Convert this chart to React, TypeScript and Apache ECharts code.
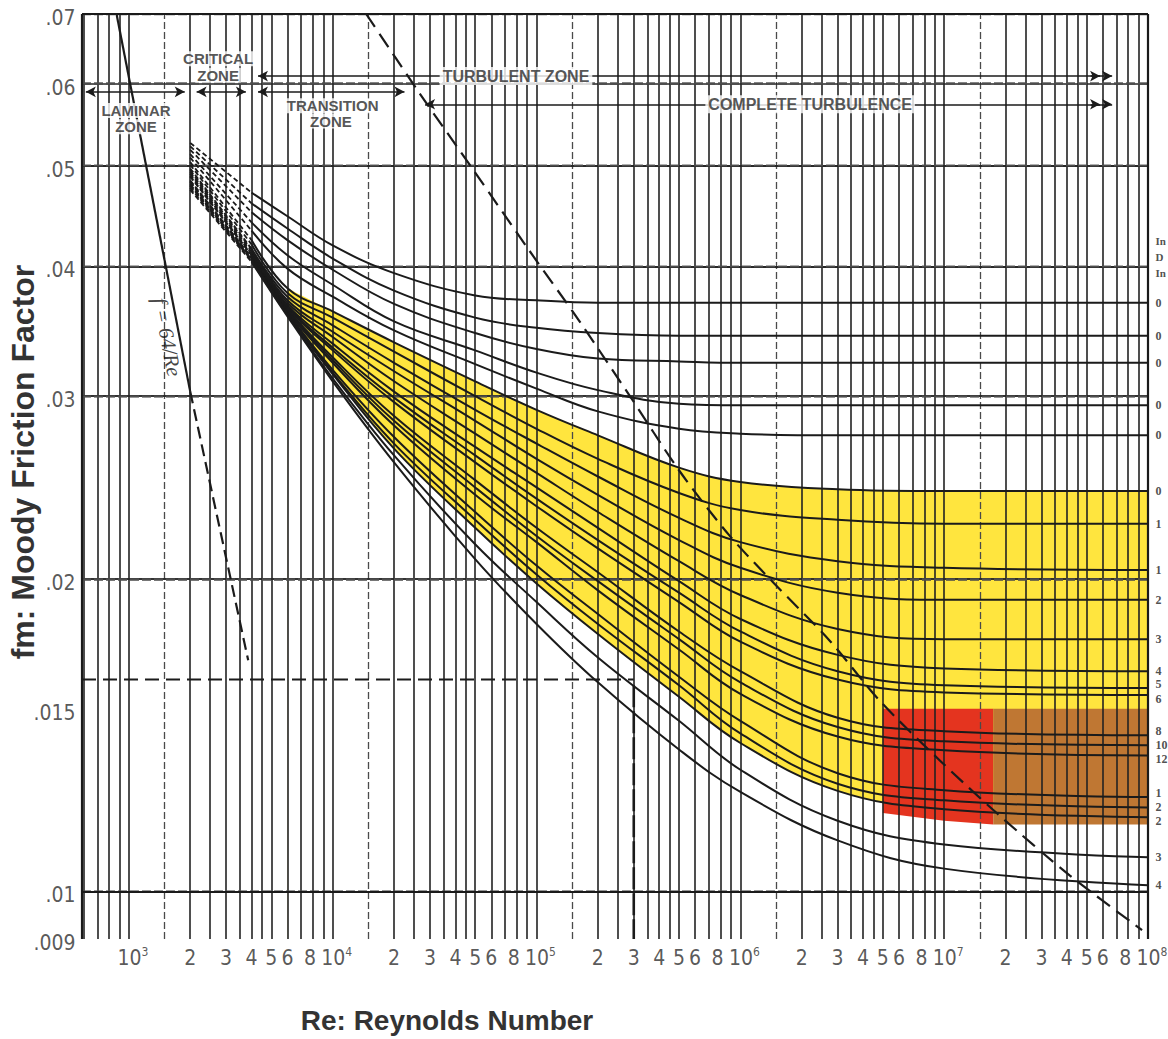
import React, { useEffect, useRef } from "react";
import * as echarts from "echarts";

const RE_MIN = 589;
const RE_MAX = 1e8;
const F_MIN = 0.009;
const F_MAX = 0.07;

const reSamples = [2000, 4000, 6000, 1e4, 2e4, 5e4, 1e5, 2e5, 5e5, 1e6, 3e6, 1e7, 1e8];

// friction factor readings, one array per curve (top to bottom)
const curve01 = [0.0526, 0.0471, 0.0447, 0.0419, 0.0394, 0.0375, 0.0371, 0.0369, 0.0369, 0.0369, 0.0369, 0.0369, 0.0369];
const curve02 = [0.0522, 0.046, 0.0435, 0.0407, 0.0379, 0.0357, 0.0349, 0.0345, 0.0343, 0.0343, 0.0343, 0.0343, 0.0343];
const curve03 = [0.0518, 0.0451, 0.0424, 0.0397, 0.0368, 0.0345, 0.0333, 0.0326, 0.0324, 0.0323, 0.0323, 0.0323, 0.0323];
const curve04 = [0.0513, 0.0441, 0.041, 0.0384, 0.0354, 0.0332, 0.0316, 0.0304, 0.0295, 0.0294, 0.0294, 0.0294, 0.0294];
const curve05 = [0.0509, 0.0433, 0.0398, 0.0374, 0.0347, 0.0322, 0.0305, 0.029, 0.0279, 0.0276, 0.0275, 0.0275, 0.0275];
const curve06 = [0.0504, 0.0424, 0.0381, 0.0362, 0.0338, 0.031, 0.0291, 0.0275, 0.0256, 0.0248, 0.0244, 0.0243, 0.0243];
const curve07 = [0.0501, 0.042, 0.0377, 0.0357, 0.0331, 0.03, 0.0279, 0.0261, 0.0242, 0.0233, 0.0228, 0.0226, 0.0226];
const curve08 = [0.0497, 0.0416, 0.0374, 0.0351, 0.0323, 0.0291, 0.027, 0.0251, 0.0229, 0.0217, 0.0208, 0.0205, 0.0204];
const curve09 = [0.0495, 0.0415, 0.0371, 0.0346, 0.0317, 0.0284, 0.0261, 0.0241, 0.0218, 0.0205, 0.0194, 0.0191, 0.0191];
const curve10 = [0.0493, 0.0413, 0.0369, 0.0342, 0.031, 0.0276, 0.0253, 0.0232, 0.0208, 0.0193, 0.0179, 0.0175, 0.0175];
const curve11 = [0.0491, 0.0411, 0.0367, 0.0337, 0.0303, 0.0268, 0.0245, 0.0224, 0.0199, 0.0183, 0.0169, 0.0164, 0.0163];
const curve12 = [0.0489, 0.041, 0.0366, 0.0334, 0.0299, 0.0263, 0.0239, 0.0218, 0.0194, 0.0178, 0.0163, 0.0158, 0.0157];
const curve13 = [0.0488, 0.041, 0.0365, 0.0332, 0.0296, 0.0259, 0.0235, 0.0214, 0.019, 0.0174, 0.016, 0.01555, 0.01546];
const curve14 = [0.0484, 0.0408, 0.0364, 0.0327, 0.0287, 0.0249, 0.0224, 0.0203, 0.0178, 0.0163, 0.0147, 0.01427, 0.01414];
const curve15 = [0.0483, 0.0408, 0.0363, 0.0325, 0.0284, 0.0245, 0.022, 0.0199, 0.0175, 0.0159, 0.0144, 0.01395, 0.01383];
const curve16 = [0.0482, 0.0407, 0.0362, 0.0323, 0.0281, 0.0241, 0.0217, 0.0195, 0.0171, 0.0155, 0.0141, 0.01368, 0.01352];
const curve17 = [0.048, 0.0406, 0.0361, 0.0318, 0.0274, 0.0232, 0.0206, 0.0185, 0.0161, 0.0146, 0.013, 0.01252, 0.01233];
const curve18 = [0.0479, 0.0406, 0.036, 0.0316, 0.027, 0.0228, 0.0202, 0.0181, 0.0158, 0.0142, 0.0127, 0.01224, 0.01205];
const curve19 = [0.0478, 0.0406, 0.036, 0.0315, 0.0267, 0.0224, 0.0198, 0.0177, 0.0154, 0.0139, 0.0125, 0.012, 0.01179];
const curve20 = [0.0476, 0.0405, 0.0359, 0.0312, 0.0263, 0.0216, 0.019, 0.0168, 0.0146, 0.0131, 0.0117, 0.0111, 0.01079];
const curve21 = [0.0474, 0.0404, 0.0358, 0.031, 0.0259, 0.0209, 0.0181, 0.0159, 0.0137, 0.01247, 0.0112, 0.01052, 0.01014];

const curves = [
  curve01, curve02, curve03, curve04, curve05, curve06, curve07, curve08, curve09, curve10, curve11,
  curve12, curve13, curve14, curve15, curve16, curve17, curve18, curve19, curve20, curve21,
];

// laminar line f = 64/Re (solid part, then dashed through the critical zone)
const laminarRe = [870, 2000];
const laminarF = [0.07, 0.0303];
const laminarDashRe = [2000, 3850];
const laminarDashF = [0.0303, 0.0167];

// dashed boundary of complete turbulence
const boundaryRe = [14600, 26400, 49100, 91600, 161000, 284000, 500000, 881000, 1466000, 2730000, 4810000, 9490000, 18100000, 41400000, 93500000];
const boundaryF = [0.07, 0.0589, 0.0495, 0.0415, 0.0355, 0.0301, 0.02545, 0.02204, 0.0198, 0.01746, 0.01528, 0.01338, 0.0119, 0.01036, 0.00918];

// dashed reading guides
const guideHRe = [RE_MIN, 300000];
const guideHF = [0.016, 0.016];
const guideVRe = [300000, 300000];
const guideVF = [0.0158, F_MIN];

// coloured zones
const yellowFirstSample = 2;
const redRe = [5.0e6, 1.0e7, 1.74e7];
const redTop = [0.015, 0.015, 0.015];
const redBottom = [0.0119, 0.0117, 0.0116];
const brownRe = [1.74e7, 1e8];
const brownTop = [0.015, 0.015];
const brownBottom = [0.0116, 0.0116];

// grid
const gridMantissas = [1, 1.5, 2, 2.5, 3, 3.5, 4, 4.5, 5, 6, 7, 8, 9];
const gridDecades = [100, 1e3, 1e4, 1e5, 1e6, 1e7];
const fGridSolid = [0.01, 0.011, 0.013, 0.015, 0.018, 0.02, 0.03, 0.032, 0.036, 0.04, 0.044, 0.048, 0.05, 0.054, 0.06, 0.066];
const fGridDashed = [0.0095, 0.012, 0.014, 0.016, 0.017, 0.019, 0.022, 0.024, 0.026, 0.028, 0.034, 0.038, 0.042, 0.046, 0.052, 0.056, 0.058, 0.062, 0.064, 0.068];

// tick labels
const xTickValues = [
  1e3, 2e3, 3e3, 4e3, 5e3, 6e3, 8e3,
  1e4, 2e4, 3e4, 4e4, 5e4, 6e4, 8e4,
  1e5, 2e5, 3e5, 4e5, 5e5, 6e5, 8e5,
  1e6, 2e6, 3e6, 4e6, 5e6, 6e6, 8e6,
  1e7, 2e7, 3e7, 4e7, 5e7, 6e7, 8e7, 1e8,
];
const xTickTexts = [
  "10{s|3}", "2", "3", "4", "5", "6", "8",
  "10{s|4}", "2", "3", "4", "5", "6", "8",
  "10{s|5}", "2", "3", "4", "5", "6", "8",
  "10{s|6}", "2", "3", "4", "5", "6", "8",
  "10{s|7}", "2", "3", "4", "5", "6", "8", "10{s|8}",
];
const yTickValues = [0.07, 0.06, 0.05, 0.04, 0.03, 0.02, 0.015, 0.01, 0.009];
const yTickTexts = [".07", ".06", ".05", ".04", ".03", ".02", ".015", ".01", ".009"];

// labels at the right edge (cut by the page edge in the original)
const rightLabelTexts = ["0", "0", "0", "0", "0", "0", "1", "1", "2", "3", "4", "5", "6", "8", "10", "12", "1", "2", "2", "3", "4"];
const rightLabelNudge = [0, 0, 0, 0, 0, 0, 0, 0, 0, 0, 0, -4, 4, -4, 0, 4, -4, 0, 4, 0, 0];
const headerF = [0.0423, 0.0408, 0.0394];
const headerTexts = ["In", "D", "In"];

// zone annotations
const zoneTexts = ["CRITICAL", "ZONE", "LAMINAR", "ZONE", "TRANSITION", "ZONE"];
const zoneRe = [2740, 2740, 1084, 1084, 10000, 9800];
const zoneF = [0.0634, 0.0611, 0.0565, 0.0545, 0.0571, 0.0552];
const bannerTexts = ["TURBULENT ZONE", "COMPLETE TURBULENCE"];
const bannerRe = [79300, 2200000];
const bannerF = [0.061, 0.0573];

const arrowFrom = [615, 2150, 4300, 4300, 28400];
const arrowTo = [1880, 3750, 22500, 6.67e7, 6.67e7];
const arrowF = [0.0589, 0.0589, 0.0589, 0.061, 0.0573];
const doubleHeadAt = [5.82e7, 5.82e7];
const doubleHeadF = [0.061, 0.0573];

const laminarLabelRe = [1540];
const laminarLabelF = [0.0342];

const INK = "#1b1b1b";
const SANS = "'Liberation Sans', Arial, Helvetica, sans-serif";
const NARROW = "'Liberation Sans Narrow', 'Arial Narrow', 'DejaVu Sans Condensed', 'Liberation Sans', sans-serif";
const SERIF = "'Liberation Serif', 'DejaVu Serif', serif";
const SMOOTH = 0.4;

function pairs(xs: number[], ys: number[], from = 0, to = xs.length) {
  const out: number[][] = [];
  for (let i = from; i < to; i++) out.push([xs[i], ys[i]]);
  return out;
}

function polygonSeries(xs: number[], top: number[], bottom: number[], color: string, z: number) {
  return {
    type: "custom",
    z,
    silent: true,
    clip: true,
    data: [[xs[0], top[0]]],
    renderItem: (_p: any, api: any) => {
      const pts: number[][] = [];
      for (let i = 0; i < xs.length; i++) pts.push(api.coord([xs[i], top[i]]));
      for (let i = xs.length - 1; i >= 0; i--) pts.push(api.coord([xs[i], bottom[i]]));
      return { type: "polygon", shape: { points: pts }, style: { fill: color } };
    },
  };
}

function markLineSeries(data: any[], lineStyle: any, z: number, extra: any = {}) {
  return {
    type: "line",
    data: [[RE_MIN, F_MIN]],
    symbol: "none",
    silent: true,
    lineStyle: { width: 0, opacity: 0 },
    z,
    markLine: {
      silent: true,
      z,
      symbol: ["none", "none"],
      label: { show: false },
      emphasis: { disabled: true },
      lineStyle,
      data,
      animation: false,
      ...extra,
    },
  };
}

function textSeries(items: any[], label: any, z = 9) {
  return {
    type: "scatter",
    silent: true,
    clip: false,
    z,
    symbol: "circle",
    symbolSize: 1,
    itemStyle: { color: "rgba(0,0,0,0)" },
    data: items,
    label: { show: true, ...label },
  };
}

export default function App() {
  const ref = useRef<HTMLDivElement>(null);

  useEffect(() => {
    if (!ref.current) return;
    const chart = echarts.init(ref.current, null, { renderer: "svg" });

    const verticalSolid: any[] = [];
    const verticalHalf: any[] = [];
    gridDecades.forEach((d) =>
      gridMantissas.forEach((m) => {
        const v = d * m;
        if (v <= RE_MIN || v >= RE_MAX) return;
        if (m === 1.5) verticalHalf.push({ xAxis: v });
        else verticalSolid.push({ xAxis: v });
      })
    );

    const series: any[] = [];

    // yellow band between curve 6 and curve 19
    series.push({
      type: "line",
      data: pairs(reSamples, curve06, yellowFirstSample),
      smooth: SMOOTH,
      symbol: "none",
      silent: true,
      lineStyle: { width: 0, opacity: 0 },
      areaStyle: { color: "#FFE53E", opacity: 1, origin: "start" },
      z: 1,
    });
    series.push({
      type: "line",
      data: pairs(reSamples, curve19, yellowFirstSample),
      smooth: SMOOTH,
      symbol: "none",
      silent: true,
      lineStyle: { width: 0, opacity: 0 },
      areaStyle: { color: "#ffffff", opacity: 1, origin: "start" },
      z: 2,
    });
    series.push(polygonSeries(redRe, redTop, redBottom, "#E4341F", 3));
    series.push(polygonSeries(brownRe, brownTop, brownBottom, "#BF7733", 3));

    // grid lines
    series.push(markLineSeries(verticalSolid, { color: "#222", width: 1.6, type: "solid", opacity: 1 }, 4));
    series.push(markLineSeries(verticalHalf, { color: "#4a4a4a", width: 1.3, type: [7, 3], opacity: 1 }, 4));
    series.push(markLineSeries(fGridSolid.map((v) => ({ yAxis: v })), { color: "#262626", width: 1.6, type: "solid", opacity: 1 }, 4));
    series.push(markLineSeries(fGridDashed.map((v) => ({ yAxis: v })), { color: "#4d4d4d", width: 1.3, type: [9, 3], opacity: 1 }, 4));

    // special lines
    series.push({ type: "line", data: pairs(laminarRe, laminarF), symbol: "none", silent: true, lineStyle: { color: INK, width: 2.2 }, z: 5 });
    series.push({ type: "line", data: pairs(laminarDashRe, laminarDashF), symbol: "none", silent: true, lineStyle: { color: INK, width: 2.2, type: [12, 6] }, z: 5 });
    series.push({ type: "line", data: pairs(guideHRe, guideHF), symbol: "none", silent: true, lineStyle: { color: INK, width: 2, type: [14, 7] }, z: 5 });
    series.push({ type: "line", data: pairs(guideVRe, guideVF), symbol: "none", silent: true, lineStyle: { color: INK, width: 2.6, type: [22, 4] }, z: 5 });
    series.push({
      type: "line",
      data: pairs(boundaryRe, boundaryF),
      smooth: 0.3,
      symbol: "none",
      silent: true,
      lineStyle: { color: INK, width: 2.2, type: [16, 8] },
      z: 5,
    });

    // friction curves
    curves.forEach((c) => {
      series.push({
        type: "line",
        data: pairs(reSamples, c, 1),
        smooth: SMOOTH,
        symbol: "none",
        silent: true,
        lineStyle: { color: INK, width: 2 },
        z: 6,
      });
      series.push({
        type: "line",
        data: pairs(reSamples, c, 0, 2),
        symbol: "none",
        silent: true,
        lineStyle: { color: INK, width: 1.8, type: [5, 3] },
        z: 6,
      });
    });

    // plot frame
    series.push(
      markLineSeries(
        [{ xAxis: RE_MIN }, { xAxis: RE_MAX }, { yAxis: F_MIN }, { yAxis: F_MAX }],
        { color: "#1a1a1a", width: 2.2, type: "solid", opacity: 1 },
        7
      )
    );

    // zone arrows
    const arrowData: any[] = [];
    arrowFrom.forEach((a, i) => {
      arrowData.push([
        { coord: [a, arrowF[i]], symbol: "arrow" },
        { coord: [arrowTo[i], arrowF[i]], symbol: "arrow" },
      ]);
    });
    doubleHeadAt.forEach((a, i) => {
      arrowData.push([
        { coord: [a * 0.9, doubleHeadF[i]], symbol: "none" },
        { coord: [a, doubleHeadF[i]], symbol: "arrow" },
      ]);
    });
    series.push(markLineSeries(arrowData, { color: INK, width: 1.6, type: "solid", opacity: 1 }, 8, { symbolSize: [8, 10] }));

    // tick labels
    series.push(
      textSeries(
        xTickValues.map((v, i) => {
          const t = xTickTexts[i];
          const shift = t.indexOf("10") === 0 ? 4 : t === "8" ? -3 : 0;
          return { value: [v, F_MIN], label: { offset: [shift, 0] } };
        }),
        {
          position: "bottom",
          distance: 6,
          formatter: (p: any) => xTickTexts[p.dataIndex],
          fontFamily: NARROW,
          fontSize: 21,
          lineHeight: 24,
          color: "#2e2e2e",
          rich: { s: { fontFamily: NARROW, fontSize: 12, lineHeight: 12, verticalAlign: "top", color: "#2e2e2e" } },
        }
      )
    );
    series.push(
      textSeries(
        yTickValues.map((v) => ({ value: [RE_MIN, v] })),
        {
          position: "left",
          distance: 6,
          offset: [0, 4],
          formatter: (p: any) => yTickTexts[p.dataIndex],
          fontFamily: NARROW,
          fontSize: 21,
          color: "#2e2e2e",
        }
      )
    );

    // right edge labels
    series.push(
      textSeries(
        curves.map((c, i) => ({
          value: [RE_MAX, c[c.length - 1]],
          label: { offset: [0, rightLabelNudge[i]] },
        })),
        {
          position: "right",
          distance: 7,
          formatter: (p: any) => rightLabelTexts[p.dataIndex],
          fontFamily: SERIF,
          fontWeight: "bold",
          fontSize: 12,
          color: "#222",
        }
      )
    );
    series.push(
      textSeries(
        headerF.map((v) => ({ value: [RE_MAX, v] })),
        {
          position: "right",
          distance: 7,
          formatter: (p: any) => headerTexts[p.dataIndex],
          fontFamily: SERIF,
          fontWeight: "bold",
          fontSize: 11,
          color: "#222",
        }
      )
    );

    // zone texts
    series.push(
      textSeries(
        zoneRe.map((r, i) => ({ value: [r, zoneF[i]] })),
        {
          position: "inside",
          formatter: (p: any) => zoneTexts[p.dataIndex],
          fontFamily: SANS,
          fontWeight: "bold",
          fontSize: 15,
          color: "#2a2a2a",
          backgroundColor: "#ffffff",
          padding: [0, 2],
        }
      )
    );
    series.push(
      textSeries(
        bannerRe.map((r, i) => ({ value: [r, bannerF[i]] })),
        {
          position: "inside",
          formatter: (p: any) => bannerTexts[p.dataIndex],
          fontFamily: SANS,
          fontWeight: "bold",
          fontSize: 16,
          color: "#2a2a2a",
          backgroundColor: "#ffffff",
          padding: [1, 3],
        }
      )
    );
    series.push(
      textSeries(
        laminarLabelRe.map((r, i) => ({ value: [r, laminarLabelF[i]] })),
        {
          position: "inside",
          rotate: -79,
          formatter: "f = 64/Re",
          fontFamily: SERIF,
          fontStyle: "italic",
          fontSize: 21,
          color: "#111",
        }
      )
    );

    chart.setOption({
      animation: false,
      backgroundColor: "#ffffff",
      grid: { left: 82, top: 14, width: 1066, height: 925, show: false },
      xAxis: {
        type: "log",
        logBase: 10,
        min: RE_MIN,
        max: RE_MAX,
        axisLine: { show: false },
        axisTick: { show: false },
        axisLabel: { show: false },
        splitLine: { show: false },
      },
      yAxis: {
        type: "log",
        logBase: 10,
        min: F_MIN,
        max: F_MAX,
        axisLine: { show: false },
        axisTick: { show: false },
        axisLabel: { show: false },
        splitLine: { show: false },
      },
      graphic: [
        {
          type: "text",
          x: 23,
          y: 462,
          rotation: Math.PI / 2,
          style: {
            text: "fm: Moody Friction Factor",
            font: `bold 32px ${SANS}`,
            fill: "#333",
            align: "center",
            verticalAlign: "middle",
          },
        },
        {
          type: "text",
          x: 447,
          y: 1020,
          style: {
            text: "Re: Reynolds Number",
            font: `bold 28px ${SANS}`,
            fill: "#333",
            align: "center",
            verticalAlign: "middle",
          },
        },
      ],
      series,
    });

    return () => chart.dispose();
  }, []);

  return (
    <div
      ref={ref}
      style={{ position: "absolute", left: 0, top: 0, width: 1168, height: 1039, background: "#fff" }}
    />
  );
}
